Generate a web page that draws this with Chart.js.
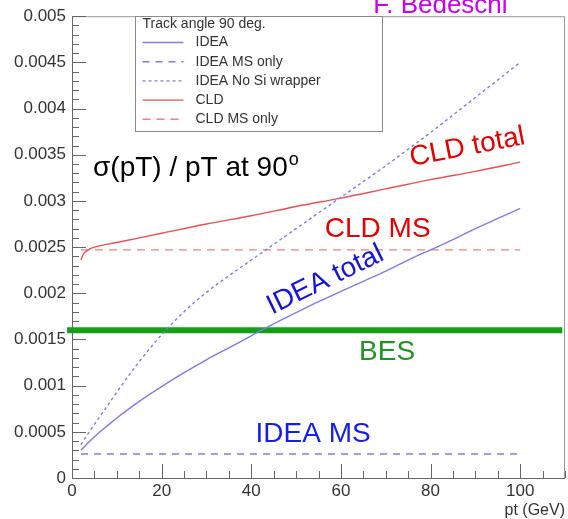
<!DOCTYPE html>
<html><head><meta charset="utf-8">
<script src="https://cdn.jsdelivr.net/npm/chart.js@4"></script>
<style>html,body{margin:0;padding:0;background:#fff}canvas{display:block}</style>
</head><body>
<canvas id="c" width="568" height="519"></canvas>
<script>
// ---- data ----
const xTicks = [0, 20, 40, 60, 80, 100];
const yTicks = [0, 0.0005, 0.001, 0.0015, 0.002, 0.0025, 0.003, 0.0035, 0.004, 0.0045, 0.005];
const yTickLabels = ['0', '0.0005', '0.001', '0.0015', '0.002', '0.0025', '0.003', '0.0035', '0.004', '0.0045', '0.005'];

const ideaPt    = [2, 4, 6, 8, 10, 15, 20, 25, 30, 35, 40, 45, 50, 55, 60, 65, 70, 75, 80, 85, 90, 95, 100];
const ideaTotal = [0.0003, 0.0004, 0.00049, 0.00057, 0.00065, 0.00083, 0.00099, 0.00114, 0.00128, 0.00141, 0.00154, 0.00167, 0.00179, 0.00191, 0.00202, 0.00213, 0.00224, 0.00236, 0.00247, 0.00258, 0.0027, 0.00281, 0.00292];
const ideaMsPt  = [2, 100];
const ideaMs    = [0.00026, 0.00026];
const ideaNoSiPt = [2, 4, 6, 8, 10, 15, 20, 25, 30, 35, 40, 45, 50, 55, 60, 65, 70, 75, 80, 85, 90, 95, 100];
const ideaNoSi   = [0.00036, 0.00051, 0.00065, 0.00079, 0.00093, 0.00126, 0.00155, 0.0018, 0.00201, 0.00219, 0.00236, 0.00253, 0.0027, 0.00287, 0.00304, 0.00321, 0.00338, 0.00356, 0.00374, 0.00393, 0.00412, 0.00431, 0.0045];
const cldPt    = [2, 2.5, 3, 4, 5, 10, 20, 30, 40, 50, 60, 70, 80, 90, 100];
const cldTotal = [0.00236, 0.00242, 0.00245, 0.00248, 0.0025, 0.00255, 0.00265, 0.00275, 0.00284, 0.00294, 0.00303, 0.00313, 0.00323, 0.00332, 0.00342];
const cldMsPt  = [2, 100];
const cldMs    = [0.00247, 0.00247];
const besPt    = [-1.1, 109.4];
const bes      = [0.0016, 0.0016];

const legendTitle = 'Track angle 90 deg.';

const pts = (xs, ys) => xs.map((x, i) => ({x: x, y: ys[i]}));

// annotation texts (anchored in data units)
const notes = [
  {text: 'CLD total',  x: 88.2, y: 0.00358,  rot: -11, color: '#e60000', size: 28},
  {text: 'CLD MS',     x: 68.2, y: 0.002695, rot: 0,   color: '#e60000', size: 28},
  {text: 'IDEA total', x: 56.5, y: 0.002143, rot: -26, color: '#1414dc', size: 28},
  {text: 'BES',        x: 70.3, y: 0.001364, rot: 0,   color: '#1e961e', size: 28},
  {text: 'IDEA MS',    x: 53.8, y: 0.000476, rot: 0,   color: '#1420e6', size: 28}
];

const FONT = '"Liberation Sans", Arial, Helvetica, sans-serif';

const framePlugin = {
  id: 'frame',
  beforeDatasetsDraw(chart) {
    const {ctx, chartArea: a, scales: {x, y}} = chart;
    ctx.save();
    ctx.strokeStyle = '#9a9a9a';
    ctx.lineWidth = 1;
    ctx.strokeRect(a.left + 0.5, a.top + 0.5, a.right - a.left - 1, a.bottom - a.top);
    ctx.strokeStyle = '#666';
    ctx.beginPath();
    ctx.moveTo(a.left + 0.5, a.top); ctx.lineTo(a.left + 0.5, a.bottom + 0.5);
    ctx.lineTo(a.right, a.bottom + 0.5);
    // x ticks (inward)
    for (let v = 0; v <= 110.001; v += 5) {
      const px = Math.round(x.getPixelForValue(v)) + 0.5;
      const len = (v % 20 === 0) ? 14 : 7;
      ctx.moveTo(px, a.bottom); ctx.lineTo(px, a.bottom - len);
    }
    // y ticks (inward)
    for (let i = 0; i <= 50; i++) {
      const v = i * 0.0001;
      const py = Math.round(y.getPixelForValue(v)) + 0.5;
      const len = (i % 5 === 0) ? 14 : 7;
      ctx.moveTo(a.left, py); ctx.lineTo(a.left + len, py);
    }
    ctx.stroke();
    ctx.restore();
  },
  afterDatasetsDraw(chart) {
    const {ctx, scales: {x, y}} = chart;
    ctx.save();
    // legend box
    const l = Math.round(x.getPixelForValue(14.06)) + 0.5, r = Math.round(x.getPixelForValue(69.2)) + 0.5;
    const t = Math.round(y.getPixelForValue(0.005)) + 0.5, b = Math.round(y.getPixelForValue(0.003756)) + 0.5;
    ctx.fillStyle = '#fff';
    ctx.fillRect(l, t, r - l, b - t);
    ctx.strokeStyle = '#8a8a8a';
    ctx.lineWidth = 1;
    ctx.strokeRect(l, t, r - l, b - t);
    ctx.fillStyle = '#333';
    ctx.font = '14px ' + FONT;
    ctx.textBaseline = 'middle';
    ctx.textAlign = 'left';
    ctx.fillText(legendTitle, l + 7, t + 8);
    let row = 0;
    chart.data.datasets.forEach(ds => {
      if (ds.hideInLegend) return;
      const cy = t + 26 + row * 19.2;
      ctx.save();
      ctx.strokeStyle = ds.borderColor;
      ctx.lineWidth = ds.borderWidth;
      ctx.setLineDash(ds.borderDash || []);
      ctx.beginPath();
      ctx.moveTo(l + 7, cy); ctx.lineTo(l + 48, cy);
      ctx.stroke();
      ctx.restore();
      ctx.fillStyle = '#333';
      ctx.fillText(ds.label, l + 60, cy);
      row++;
    });
    // annotations
    notes.forEach(n => {
      ctx.save();
      ctx.translate(x.getPixelForValue(n.x), y.getPixelForValue(n.y));
      ctx.rotate(n.rot * Math.PI / 180);
      ctx.fillStyle = n.color;
      ctx.font = n.size + 'px ' + FONT;
      ctx.textAlign = 'center';
      ctx.textBaseline = 'middle';
      ctx.fillText(n.text, 0, 0);
      ctx.restore();
    });
    // sigma label with superscript
    ctx.fillStyle = '#000';
    ctx.textAlign = 'left';
    ctx.textBaseline = 'alphabetic';
    ctx.font = '28px ' + FONT;
    const sx = x.getPixelForValue(4.7), sy = y.getPixelForValue(0.00327);
    const main = '\u03c3(pT) / pT at 90';
    ctx.fillText(main, sx, sy);
    const w = ctx.measureText(main).width;
    ctx.font = '18px ' + FONT;
    ctx.fillText('o', sx + w + 1, sy - 11);
    // author
    ctx.fillStyle = '#cc00ee';
    ctx.font = '26px ' + FONT;
    ctx.fillText('F. Bedeschi', x.getPixelForValue(67.2), y.getPixelForValue(0.005033));
    ctx.restore();
  }
};

new Chart(document.getElementById('c'), {
  type: 'line',
  data: {
    datasets: [
      {label: 'IDEA', data: pts(ideaPt, ideaTotal), borderColor: '#7c7cea', borderWidth: 1.4, cubicInterpolationMode: 'monotone'},
      {label: 'IDEA MS only', data: pts(ideaMsPt, ideaMs), borderColor: '#7c7cea', borderWidth: 1.4, borderDash: [7, 6]},
      {label: 'IDEA No Si wrapper', data: pts(ideaNoSiPt, ideaNoSi), borderColor: '#7c7cea', borderWidth: 1.4, borderDash: [3, 3], cubicInterpolationMode: 'monotone'},
      {label: 'CLD', data: pts(cldPt, cldTotal), borderColor: '#ea5050', borderWidth: 1.4, cubicInterpolationMode: 'monotone'},
      {label: 'CLD MS only', data: pts(cldMsPt, cldMs), borderColor: '#ef8080', borderWidth: 1.4, borderDash: [8, 6]},
      {label: 'BES', data: pts(besPt, bes), borderColor: '#14a014', borderWidth: 6, clip: false, hideInLegend: true}
    ]
  },
  options: {
    responsive: false,
    animation: false,
    devicePixelRatio: 1,
    layout: {padding: {top: 16, right: 3, left: 0, bottom: 0}},
    elements: {point: {radius: 0}},
    plugins: {legend: {display: false}, tooltip: {enabled: false}},
    scales: {
      x: {
        type: 'linear', min: 0, max: 110,
        afterBuildTicks: s => { s.ticks = xTicks.map(v => ({value: v})); },
        afterFit: s => { s.height = 41; },
        grid: {display: false, drawTicks: false},
        border: {display: false},
        ticks: {padding: 3, color: '#333', font: {size: 17, family: FONT}, maxRotation: 0, autoSkip: false},
        title: {display: true, text: 'pt (GeV)', align: 'end', color: '#333', font: {size: 16, family: FONT, lineHeight: 1}, padding: 0}
      },
      y: {
        type: 'linear', min: 0, max: 0.005,
        afterBuildTicks: s => { s.ticks = yTicks.map(v => ({value: v})); },
        afterFit: s => { s.width = 72; },
        grid: {display: false, drawTicks: false},
        border: {display: false},
        ticks: {padding: 6, color: '#333', font: {size: 17, family: FONT}, autoSkip: false,
          callback: (v, i) => yTickLabels[i]}
      }
    }
  },
  plugins: [framePlugin]
});
</script>
</body></html>
